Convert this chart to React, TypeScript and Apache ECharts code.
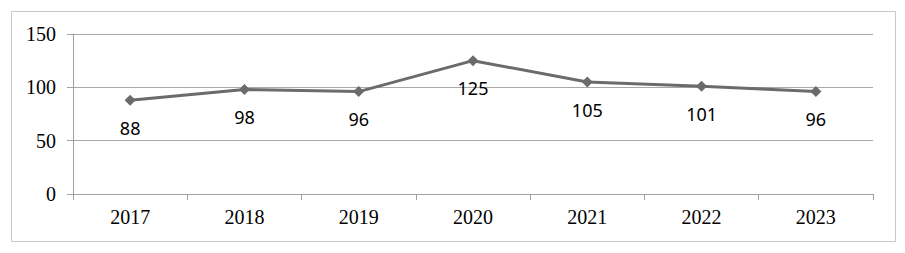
import React, { useEffect, useRef } from "react";
import * as echarts from "echarts";

const categories = ["2017", "2018", "2019", "2020", "2021", "2022", "2023"];
const values = [88, 98, 96, 125, 105, 101, 96];
const yTicks = [0, 50, 100, 150];

export default function App() {
  const ref = useRef<HTMLDivElement>(null);
  useEffect(() => {
    document.body.style.margin = "0";
    const chart = echarts.init(ref.current!, null, { renderer: "svg" });
    chart.setOption({
      animation: false,
      backgroundColor: "#ffffff",
      graphic: [
        {
          type: "rect",
          shape: { x: 11.5, y: 11.5, width: 884, height: 230 },
          style: { fill: "none", stroke: "#c8c8c8", lineWidth: 1 },
          silent: true,
        },
      ],
      grid: { left: 73, right: 32, top: 34, bottom: 59, containLabel: false },
      xAxis: {
        type: "category",
        data: categories,
        boundaryGap: true,
        axisLine: { lineStyle: { color: "#a0a0a0", width: 1 } },
        axisTick: { show: true, length: 6, lineStyle: { color: "#a0a0a0" } },
        axisLabel: {
          color: "#000",
          fontFamily: "Liberation Serif",
          fontSize: 20,
          margin: 13,
        },
      },
      yAxis: {
        type: "value",
        min: yTicks[0],
        max: yTicks[yTicks.length - 1],
        interval: 50,
        axisLine: { show: true, lineStyle: { color: "#a0a0a0", width: 1 } },
        axisTick: { show: true, length: 6, lineStyle: { color: "#a0a0a0" } },
        splitLine: { lineStyle: { color: "#a8a8a8", width: 1 } },
        axisLabel: {
          color: "#000",
          fontFamily: "Liberation Serif",
          fontSize: 20,
          margin: 17,
        },
      },
      series: [
        {
          type: "line",
          data: values,
          symbol: "diamond",
          symbolSize: 11,
          lineStyle: { color: "#6b6b6b", width: 3 },
          itemStyle: { color: "#6b6b6b" },
          label: {
            show: true,
            position: "bottom",
            distance: 13,
            color: "#000",
            fontFamily: "Noto Sans",
            fontSize: 18,
          },
        },
      ],
    });
    return () => chart.dispose();
  }, []);
  return <div ref={ref} style={{ width: 905, height: 253 }} />;
}
